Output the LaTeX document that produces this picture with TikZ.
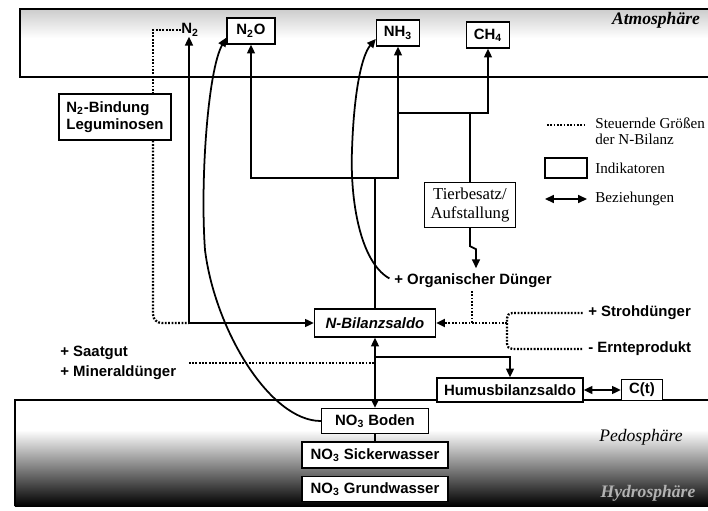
\documentclass[tikz,border=0pt]{standalone}
\usepackage{fontspec}
\setmainfont{Liberation Serif}
\setsansfont{Liberation Sans}
\usetikzlibrary{arrows.meta}

\begin{document}
\begin{tikzpicture}[x=0.02cm, y=-0.02cm,
  box/.style={draw, thick, fill=white, inner sep=1pt, font=\sffamily\bfseries\fontsize{8.5}{10}\selectfont},
  lbl/.style={inner sep=0pt, font=\sffamily\bfseries\fontsize{8.5}{11.5}\selectfont},
  leg/.style={inner sep=0pt, anchor=west, align=left, font=\fontsize{8.6}{8.6}\selectfont},
  flow/.style={line width=1pt, -{Triangle[length=5pt,width=4.5pt]}},
  both/.style={line width=1pt, {Triangle[length=5pt,width=4.5pt]}-{Triangle[length=5pt,width=4.5pt]}},
  ctrl/.style={line width=1.3pt, dash pattern=on 1pt off 0.9pt}]
\useasboundingbox (0,0) rectangle (708,511);
\shade[top color=gray!40, bottom color=white] (20,9) rectangle (708,38); \draw[thick] (708,9) -- (20,9) -- (20,77) -- (708,77);
\shade[top color=white, middle color=gray!75, bottom color=black] (15,430) rectangle (708,506); \draw[thick] (708,400) -- (15,400) -- (15,506);
\node[font=\fontsize{10}{12}\selectfont\bfseries\itshape, inner sep=0pt] (atmo) at (656,20) {Atmosphäre};
\node[font=\fontsize{10}{12}\selectfont\itshape, inner sep=0pt] (pedo) at (641,437) {Pedosphäre};
\node[font=\fontsize{10}{12}\selectfont\bfseries\itshape, text=white!70!black, inner sep=0pt] (hydro) at (648,493) {Hydrosphäre};

\node[lbl] (n2) at (190,30) {N\textsubscript{2}};
\node[box, minimum width=0.96cm, minimum height=0.52cm] (n2o) at (251,31) {N\textsubscript{2}O};
\node[box, minimum width=0.86cm, minimum height=0.52cm] (nh3) at (398,33) {NH\textsubscript{3}};
\node[box, minimum width=0.86cm, minimum height=0.52cm] (ch4) at (488,35) {CH\textsubscript{4}};
\node[box, align=left, minimum width=2.24cm, minimum height=0.92cm] (bind) at (115,117) {N\textsubscript{2}-Bindung\\Leguminosen};
\node[box, align=center, font=\fontsize{9.5}{10.5}\selectfont, minimum width=1.82cm, minimum height=0.9cm] (tier) at (470,205) {Tierbesatz/\\Aufstallung};
\node[lbl, anchor=west] (orgd) at (394,281) {+ Organischer Dünger};
\node[box, font=\sffamily\bfseries\itshape\fontsize{8.5}{10}\selectfont, minimum width=2.42cm, minimum height=0.56cm] (saldo) at (375,323) {N-Bilanzsaldo};
\node[lbl, anchor=west] (stroh) at (588,313) {+ Strohdünger};
\node[lbl, anchor=west] (ernte) at (588,349) {- Ernteprodukt};
\node[lbl, anchor=west, align=left] (saat) at (60,363) {+ Saatgut\\+ Mineraldünger};
\node[box, minimum width=2.92cm, minimum height=0.48cm] (humus) at (510,390) {Humusbilanzsaldo};
\node[box, minimum width=0.82cm, minimum height=0.42cm] (ct) at (642,390) {C(t)};
\node[box, minimum width=2.14cm, minimum height=0.5cm] (boden) at (375,421) {NO\textsubscript{3} Boden};
\node[box, minimum width=2.92cm, minimum height=0.52cm] (sicker) at (375,455) {NO\textsubscript{3} Sickerwasser};
\node[box, minimum width=2.92cm, minimum height=0.5cm] (grund) at (375,489) {NO\textsubscript{3} Grundwasser};

\coordinate (l1a) at (547,125); \coordinate (l1b) at (587,125); \draw[ctrl] (l1a) -- (l1b);
\node[leg, anchor=north west] (l1) at (595,118) {Steuernde Größen\\der N-Bilanz};
\node[draw, thick, minimum width=0.84cm, minimum height=0.4cm] (lbox) at (566,168) {};
\node[leg] (l2) at (595,168) {Indikatoren};
\coordinate (l3a) at (545,199); \coordinate (l3b) at (587,199); \draw[both, line width=0.8pt] (l3a) -- (l3b);
\node[leg] (l3) at (595,199) {Beziehungen};

\coordinate (dn2) at (153,30); \coordinate (cn2) at (153,323); \coordinate (jn2) at (189,323);
\draw[ctrl] (n2.west) -- (dn2) -- (dn2 |- bind.north);
\draw[ctrl, rounded corners=5pt] (dn2 |- bind.south) -- (cn2) -- (jn2);
\draw[flow] (jn2) -- (jn2 |- n2.south);
\draw[flow] (jn2) -- (saldo.west);
\coordinate (jt) at (375,178);
\draw[line width=1pt] (saldo.north) -- (jt);
\draw[flow] (jt) -- (jt -| n2o) -- (n2o.south);
\draw[flow] (jt) -- (jt -| nh3) -- (nh3.south);
\coordinate (jc) at (470,113);
\draw[line width=1pt] (tier.north) -- (jc) -- (jc -| nh3);
\draw[flow] (jc) -- (jc -| ch4) -- (ch4.south);
\draw[flow] (tier.south) -- ++(0,18) -- ++(6,3) -- ++(0,19);
\coordinate (od) at (472,291); \coordinate (jo) at (472,323); \coordinate (br) at (507,323);
\draw[ctrl] (od) -- (jo);
\draw[ctrl, rounded corners=3pt, shorten <=3pt, shorten >=3pt] (stroh.west) -- (stroh.west -| br) -- (ernte.west -| br) -- (ernte.west);
\draw[ctrl, -{Triangle[length=5pt,width=4.5pt]}] (br) -- (saldo.east);
\draw[ctrl, shorten <=7pt] (saat.east) -- (saat.east -| saldo.south);
\draw[both] (saldo.south) -- (boden.north);
\coordinate (jh) at (375,357);
\draw[flow] (jh) -- (jh -| humus) -- (humus.north);
\draw[both] (humus.east) -- (ct.west);
\draw[line width=0.8pt] (boden.south) -- (sicker.north);
\draw[flow] (boden.west) .. controls (270,421) and (215,330) .. (205,250) .. controls (200,180) and (208,70) .. (n2o.195);
\draw[flow, shorten <=3pt] (orgd.west) .. controls (360,262) and (350,200) .. (352,150) .. controls (354,90) and (362,55) .. (nh3.195);
\end{tikzpicture}
\end{document}
